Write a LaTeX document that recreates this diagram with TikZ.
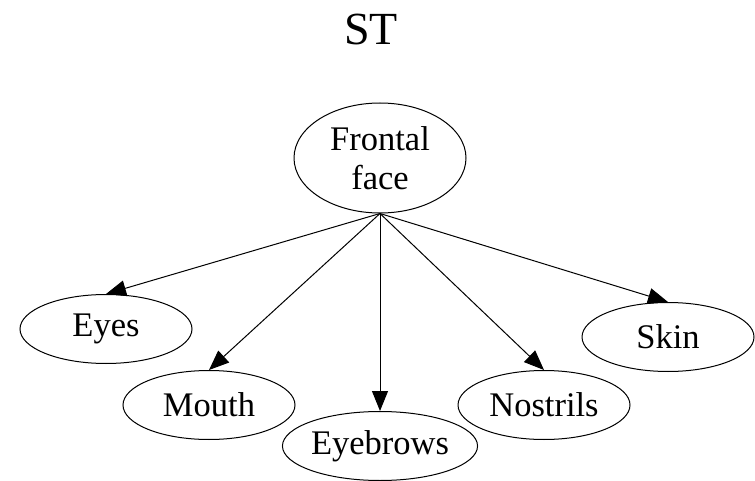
\documentclass[tikz,border=0pt]{standalone}
\usepackage{fontspec}
\setmainfont{Liberation Serif}
\usetikzlibrary{shapes.geometric,arrows.meta}
\tikzset{
  part/.style={ellipse,draw,line width=1pt,inner sep=0pt,
    minimum width=172pt,minimum height=69pt,
    font=\fontsize{34.5}{39}\selectfont},
  link/.style={line width=1pt,-{Triangle[length=20pt,width=16pt]}}
}
\begin{document}
\begin{tikzpicture}[x=1pt,y=-1pt]
  \useasboundingbox (0,0) rectangle (755,481);
  \node[font=\fontsize{46}{50}\selectfont] (title) at (371,29) {ST};
  \node[part,minimum height=110pt,align=center] (face) at (380,158) {Frontal\\face};
  \node[part] (eyes) at (106,329) {Eyes};
  \node[part] (mouth) at (209,405) {Mouth};
  \node[part] (brows) at (380,446) {Eyebrows};
  \node[part] (nostrils) at (544,405) {Nostrils};
  \node[part] (skin) at (668,337) {Skin};
  \draw[link] (face.south) -- (eyes.north);
  \draw[link] (face.south) -- (mouth.north);
  \draw[link] (face.south) -- (brows.north);
  \draw[link] (face.south) -- (nostrils.north);
  \draw[link] (face.south) -- (skin.north);
\end{tikzpicture}
\end{document}
